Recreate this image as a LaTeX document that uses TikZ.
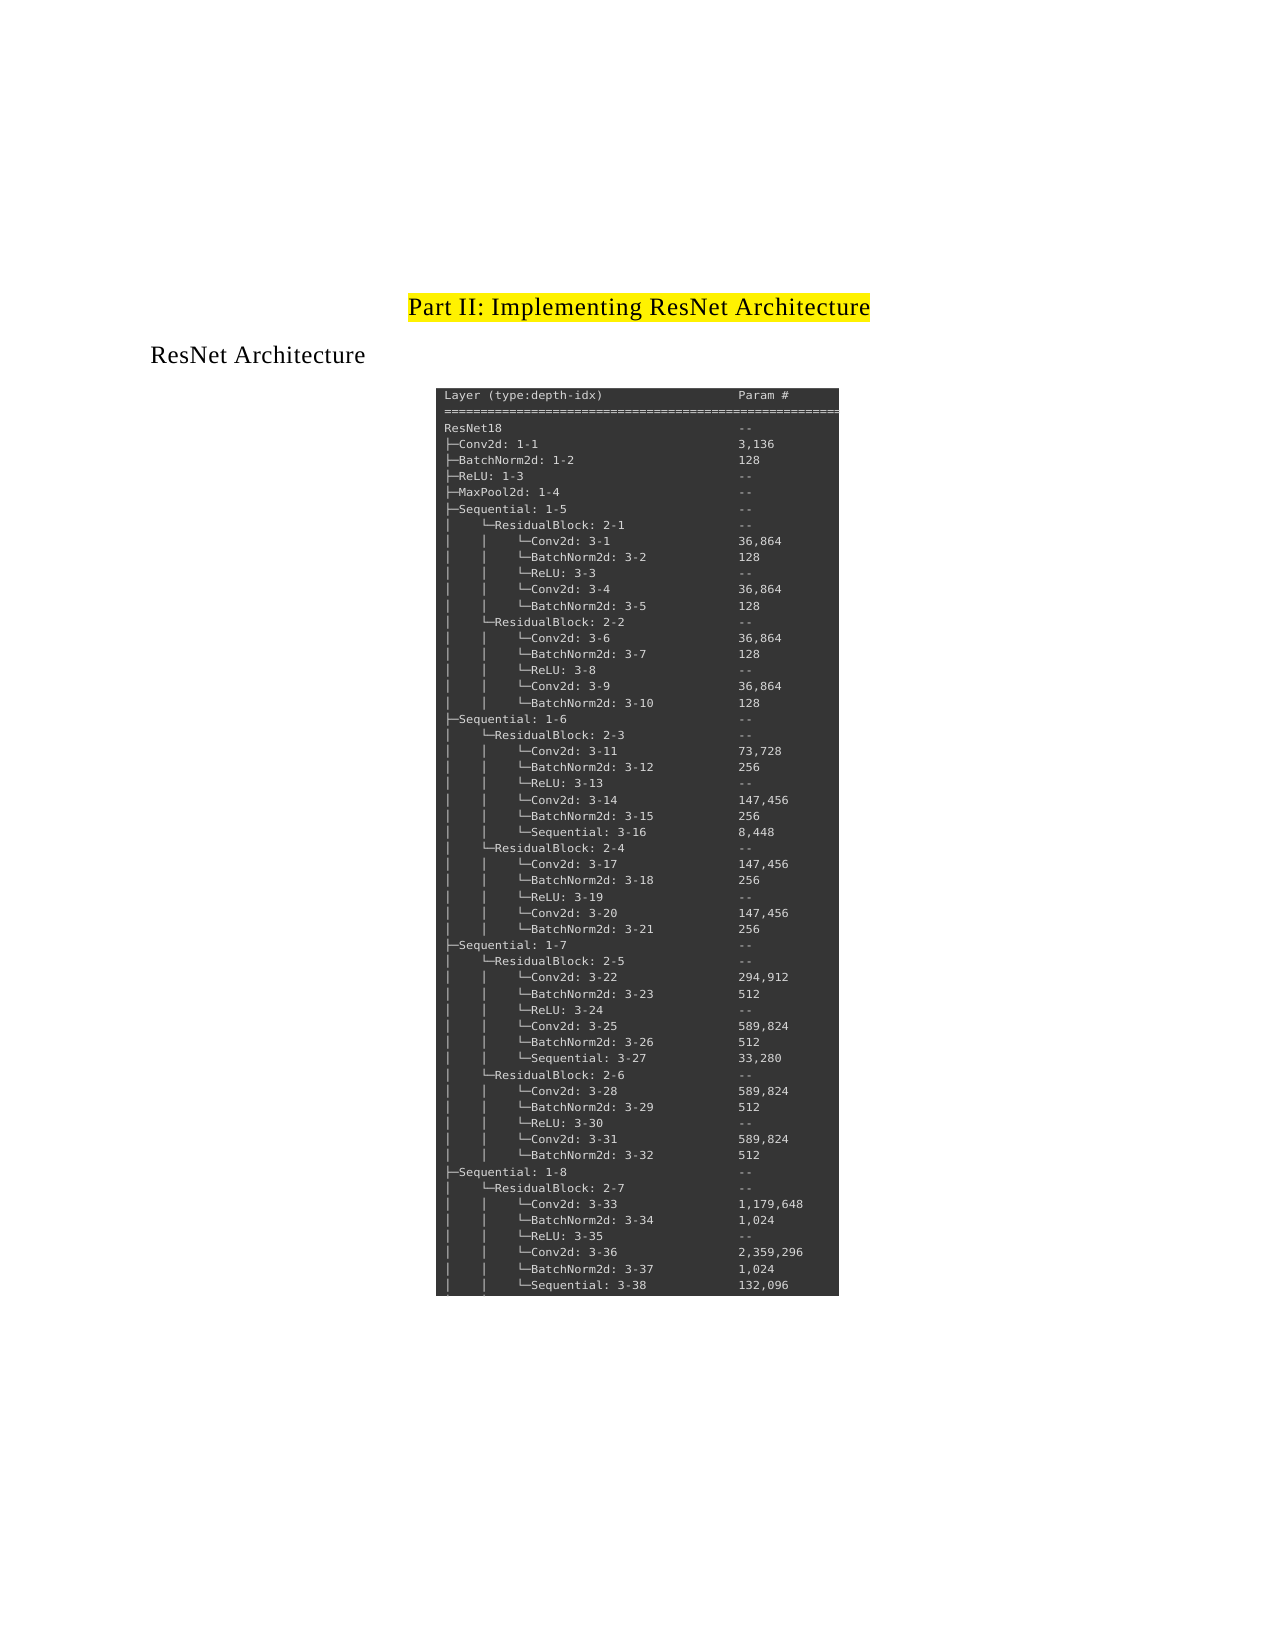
\documentclass[tikz,border=0pt]{standalone}
\usepackage{fontspec}
\setmainfont{Liberation Serif}[LetterSpace=3]
\newfontfamily\termfont[FakeStretch=1.086]{DejaVu Sans Mono}

\definecolor{panelbg}{HTML}{353535}
\definecolor{panelrim}{HTML}{555555}
\definecolor{termtext}{HTML}{D6D6D6}

% terminal font, spaces as wide as the glyphs
\newlength{\termsp}
\newcommand{\termsel}{\termfont\fontsize{5.3}{7}\selectfont\frenchspacing
    \settowidth{\termsp}{0}\spaceskip\termsp\relax}

% tree prefixes of the summary
\newcommand{\tgap}{\hphantom{0000}}
\newcommand{\tbranch}{├─}
\newcommand{\tsub}{│\tgap└─}
\newcommand{\tleaf}{│\tgap│\tgap└─}

\begin{document}
\begin{tikzpicture}[
    x=0.48pt, y=-0.48pt,
    heading/.style={font=\fontsize{12}{14}\selectfont, inner sep=0pt, anchor=base west},
    rowtext/.style={font=\termsel, text=termtext, inner sep=0pt, anchor=base west},
]
\useasboundingbox (0,0) rectangle (1275,1650);

% Headings
\node[heading, fill=yellow, text height=11pt, text depth=2.9pt] (title) at (408,316)
    {\addfontfeatures{LetterSpace=3.8}Part II: Implementing ResNet Architecture};
\node[heading] (subtitle) at (150,364) {\addfontfeatures{LetterSpace=2.4}ResNet Architecture};

% Summary panel
\fill[panelbg] (436,388) rectangle (839,1296);
\draw[panelrim, line width=0.6pt] (436,388.5) -- (839,388.5);

\begin{scope}
\clip (436,388) rectangle (839,1296);

% Header
\node[rowtext] (hdr) at (444,399.9) {Layer (type:depth-idx)};
\node[rowtext] (hdrpar) at (738,399.9) {Param \#};
\node[rowtext] (rule) at (444,416.0)
    {=================================================================};

% Layers and parameter counts
\foreach \lbl/\prm [count=\r from 0] in {
    {ResNet18}/{--},
    {\tbranch Conv2d: 1-1}/{3,136},
    {\tbranch BatchNorm2d: 1-2}/{128},
    {\tbranch ReLU: 1-3}/{--},
    {\tbranch MaxPool2d: 1-4}/{--},
    {\tbranch Sequential: 1-5}/{--},
    {\tsub ResidualBlock: 2-1}/{--},
    {\tleaf Conv2d: 3-1}/{36,864},
    {\tleaf BatchNorm2d: 3-2}/{128},
    {\tleaf ReLU: 3-3}/{--},
    {\tleaf Conv2d: 3-4}/{36,864},
    {\tleaf BatchNorm2d: 3-5}/{128},
    {\tsub ResidualBlock: 2-2}/{--},
    {\tleaf Conv2d: 3-6}/{36,864},
    {\tleaf BatchNorm2d: 3-7}/{128},
    {\tleaf ReLU: 3-8}/{--},
    {\tleaf Conv2d: 3-9}/{36,864},
    {\tleaf BatchNorm2d: 3-10}/{128},
    {\tbranch Sequential: 1-6}/{--},
    {\tsub ResidualBlock: 2-3}/{--},
    {\tleaf Conv2d: 3-11}/{73,728},
    {\tleaf BatchNorm2d: 3-12}/{256},
    {\tleaf ReLU: 3-13}/{--},
    {\tleaf Conv2d: 3-14}/{147,456},
    {\tleaf BatchNorm2d: 3-15}/{256},
    {\tleaf Sequential: 3-16}/{8,448},
    {\tsub ResidualBlock: 2-4}/{--},
    {\tleaf Conv2d: 3-17}/{147,456},
    {\tleaf BatchNorm2d: 3-18}/{256},
    {\tleaf ReLU: 3-19}/{--},
    {\tleaf Conv2d: 3-20}/{147,456},
    {\tleaf BatchNorm2d: 3-21}/{256},
    {\tbranch Sequential: 1-7}/{--},
    {\tsub ResidualBlock: 2-5}/{--},
    {\tleaf Conv2d: 3-22}/{294,912},
    {\tleaf BatchNorm2d: 3-23}/{512},
    {\tleaf ReLU: 3-24}/{--},
    {\tleaf Conv2d: 3-25}/{589,824},
    {\tleaf BatchNorm2d: 3-26}/{512},
    {\tleaf Sequential: 3-27}/{33,280},
    {\tsub ResidualBlock: 2-6}/{--},
    {\tleaf Conv2d: 3-28}/{589,824},
    {\tleaf BatchNorm2d: 3-29}/{512},
    {\tleaf ReLU: 3-30}/{--},
    {\tleaf Conv2d: 3-31}/{589,824},
    {\tleaf BatchNorm2d: 3-32}/{512},
    {\tbranch Sequential: 1-8}/{--},
    {\tsub ResidualBlock: 2-7}/{--},
    {\tleaf Conv2d: 3-33}/{1,179,648},
    {\tleaf BatchNorm2d: 3-34}/{1,024},
    {\tleaf ReLU: 3-35}/{--},
    {\tleaf Conv2d: 3-36}/{2,359,296},
    {\tleaf BatchNorm2d: 3-37}/{1,024},
    {\tleaf Sequential: 3-38}/{132,096},
    {│\tgap│}/{}
}{
    \node[rowtext] (row\r) at (444,{432.2+16.17*\r}) {\lbl};
    \node[rowtext] (par\r) at (738,{432.2+16.17*\r}) {\prm};
}
\end{scope}

\end{tikzpicture}
\end{document}
